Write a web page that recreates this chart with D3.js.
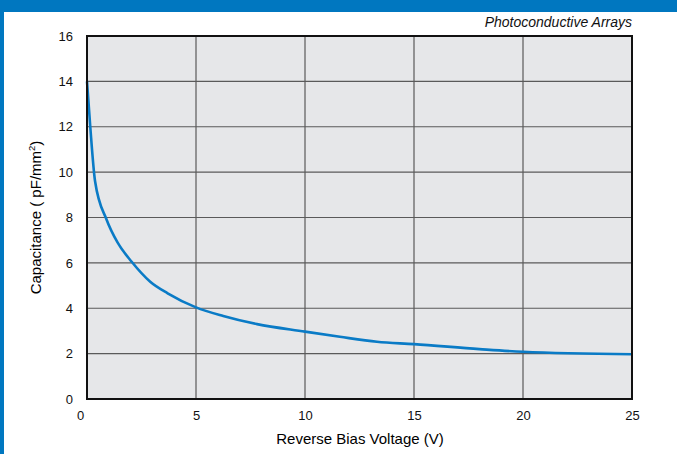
<!DOCTYPE html>
<html><head><meta charset="utf-8">
<script src="https://cdn.jsdelivr.net/npm/d3@7"></script>
<style>body{margin:0;background:#fff}svg{display:block;font-family:"Liberation Sans",Arial,sans-serif}</style>
</head><body>
<svg id="c" width="677" height="454"></svg>
<script>
const voltage = [0, 0.15, 0.37, 0.9, 1.4, 2.05, 2.9, 3.7, 5, 6.25, 7.8, 10, 11.6, 13.3, 15, 18, 20, 25];
const capacitance = [14, 12, 9.6, 7.9, 6.9, 6.05, 5.17, 4.66, 4.04, 3.66, 3.3, 2.97, 2.74, 2.52, 2.42, 2.2, 2.08, 1.97];
const xTicks = [0, 5, 10, 15, 20, 25];
const yTicks = [0, 2, 4, 6, 8, 10, 12, 14, 16];

const svg = d3.select("#c");
const L = 87, R = 632, T = 36, B = 399;
const x = d3.scaleLinear().domain([0, 25]).range([L, R]);
const y = d3.scaleLinear().domain([0, 16]).range([B, T]);

svg.append("rect").attr("x", 0).attr("y", 0).attr("width", 677).attr("height", 12).attr("fill", "#0077c0");
svg.append("rect").attr("x", 0).attr("y", 0).attr("width", 4).attr("height", 454).attr("fill", "#0077c0");

svg.append("rect").attr("x", L).attr("y", T).attr("width", R - L).attr("height", B - T).attr("fill", "#e6e7e9");

// grid
svg.append("g").selectAll("line").data(yTicks.slice(1, -1)).join("line")
  .attr("x1", L).attr("x2", R).attr("y1", d => y(d)).attr("y2", d => y(d))
  .attr("stroke", "#5a5a5a").attr("stroke-width", 1.2);
svg.append("g").selectAll("line").data(xTicks.slice(1, -1)).join("line")
  .attr("y1", T).attr("y2", B).attr("x1", d => x(d)).attr("x2", d => x(d))
  .attr("stroke", "#5a5a5a").attr("stroke-width", 1.2);

// curve
const line = d3.line().x(d => x(d[0])).y(d => y(d[1])).curve(d3.curveMonotoneX);
svg.append("path").datum(voltage.map((v, i) => [v, capacitance[i]]))
  .attr("d", line).attr("fill", "none").attr("stroke", "#0a7bc6").attr("stroke-width", 2.6)
  .attr("stroke-linejoin", "round");

svg.append("rect").attr("x", L).attr("y", T).attr("width", R - L).attr("height", B - T)
  .attr("fill", "none").attr("stroke", "#111").attr("stroke-width", 2);

// axes
const yAxis = svg.append("g").attr("transform", `translate(${L},0)`)
  .call(d3.axisLeft(y).tickValues(yTicks).tickSize(0).tickPadding(14));
yAxis.select(".domain").remove();
yAxis.selectAll("text").attr("font-size", 13).attr("fill", "#111").attr("font-family", "Liberation Sans, Arial, sans-serif");

const xAxis = svg.append("g").attr("transform", `translate(0,${B})`)
  .call(d3.axisBottom(x).tickValues(xTicks).tickSize(0).tickPadding(12));
xAxis.select(".domain").remove();
xAxis.selectAll("text").attr("font-size", 13).attr("fill", "#111").attr("font-family", "Liberation Sans, Arial, sans-serif")
  .attr("dx", d => d === 0 ? -7 : 0);

svg.append("text").attr("x", 360).attr("y", 444).attr("text-anchor", "middle")
  .attr("font-size", 15).attr("fill", "#000").text("Reverse Bias Voltage (V)");

const yl = svg.append("text").attr("transform", `translate(41,${(T + B) / 2}) rotate(-90)`)
  .attr("text-anchor", "middle").attr("font-size", 15).attr("fill", "#000");
yl.append("tspan").text("Capacitance ( pF/mm");
yl.append("tspan").attr("font-size", 9.5).attr("dy", -6).text("2");
yl.append("tspan").attr("dy", 6).text(")");

svg.append("text").attr("x", 632).attr("y", 27).attr("text-anchor", "end")
  .attr("font-size", 14).attr("font-style", "italic").attr("fill", "#111").text("Photoconductive Arrays");
</script>
</body></html>
